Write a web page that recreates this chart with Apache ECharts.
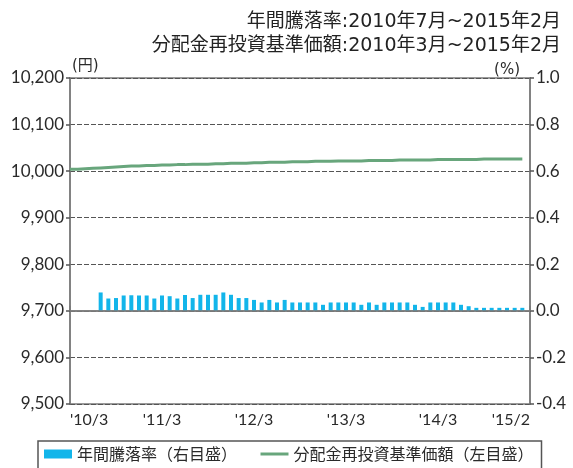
<!DOCTYPE html>
<html>
<head>
<meta charset="utf-8">
<script src="https://cdn.jsdelivr.net/npm/echarts@6/dist/echarts.min.js"></script>
<style>
  html, body { margin: 0; padding: 0; background: #fff; }
  #chart { width: 573px; height: 468px; }
</style>
</head>
<body>
<div id="chart"></div>
<script>
// Month index 0 = 2010/3, 59 = 2015/2
const xTickLabels = ["'10/3", "'11/3", "'12/3", "'13/3", "'14/3", "'15/2"];

// 分配金再投資基準価額 (円), monthly from 2010/3
const navValues = [
  10004, 10004, 10005, 10006,
  10007, 10008, 10009, 10010, 10011, 10011,
  10012, 10012, 10013, 10013, 10014, 10014, 10015, 10015, 10015, 10016, 10016,
  10017, 10017, 10017, 10018, 10018, 10019, 10019, 10019, 10020,
  10020, 10020, 10021, 10021, 10021, 10022, 10022, 10022, 10022,
  10023, 10023, 10023, 10023, 10024, 10024, 10024, 10024, 10024,
  10025, 10025, 10025, 10025, 10025, 10025, 10026, 10026, 10026, 10026, 10026, 10026
];

// 年間騰落率 (%), monthly from 2010/7 (month index 4)
const returnStart = 4;
const returnValues = [
  0.079, 0.053, 0.055, 0.066, 0.067, 0.066, 0.066, 0.053, 0.066, 0.063,
  0.053, 0.068, 0.055, 0.069, 0.069, 0.069, 0.079, 0.069, 0.055, 0.055,
  0.047, 0.036, 0.047, 0.036, 0.047, 0.036, 0.036,
  0.036, 0.036, 0.026, 0.036, 0.036, 0.036, 0.036, 0.026, 0.036, 0.026,
  0.036, 0.036, 0.036, 0.036, 0.026, 0.017, 0.036, 0.036, 0.036, 0.036,
  0.026, 0.020, 0.013, 0.013, 0.013, 0.013, 0.013, 0.013, 0.013
];

const leftTicks = { min: 9500, max: 10200, step: 100 };
const rightTicks = { min: -0.4, max: 1.0, step: 0.2 };

const seriesNames = ['年間騰落率（右目盛）', '分配金再投資基準価額（左目盛）'];
const titleLines = ['年間騰落率:2010年7月~2015年2月', '分配金再投資基準価額:2010年3月~2015年2月'];

const numFont = 'Lato, "Open Sans", sans-serif';
const cjkFont = '"DejaVu Sans", "Noto Sans CJK JP", sans-serif';
const axisGray = '#7a7a7a';
const textColor = '#2a2a2a';
const barColor = '#12b5ea';
const lineColor = '#68a67c';

const chart = echarts.init(document.getElementById('chart'), null, { renderer: 'canvas' });

chart.setOption({
  animation: false,
  backgroundColor: '#fff',
  title: [
    { text: titleLines[0], right: 7, top: 8, textStyle: { fontSize: 19, fontWeight: 'normal', color: '#222', fontFamily: cjkFont } },
    { text: titleLines[1], right: 7, top: 32, textStyle: { fontSize: 19, fontWeight: 'normal', color: '#222', fontFamily: cjkFont } }
  ],
  grid: {
    left: 70, right: 43, top: 78, bottom: 64,
    show: true, borderColor: axisGray, borderWidth: 1.5, backgroundColor: 'transparent'
  },
  legend: {
    left: 38, top: 441,
    padding: [5, 8, 10, 6],
    itemGap: 22, itemWidth: 28, itemHeight: 9,
    borderColor: '#555', borderWidth: 1.5,
    textStyle: { fontSize: 16, color: textColor, fontFamily: '"Noto Sans CJK JP", sans-serif' },
    data: [
      { name: seriesNames[0], icon: 'rect' },
      { name: seriesNames[1], itemStyle: { opacity: 0 }, lineStyle: { color: lineColor, width: 3 } }
    ]
  },
  xAxis: {
    type: 'value', min: 0, max: 60, interval: 12,
    axisLine: { show: true, lineStyle: { color: axisGray, width: 1.5 } },
    axisTick: { show: true, inside: true, length: 5, lineStyle: { color: axisGray, width: 1.5 } },
    splitLine: { show: false },
    axisLabel: {
      margin: 8, fontSize: 16, color: textColor, fontFamily: numFont,
      showMinLabel: true, showMaxLabel: true,
      alignMinLabel: 'left', alignMaxLabel: 'right',
      formatter: v => xTickLabels[Math.round(v / 12)]
    }
  },
  yAxis: [
    {
      type: 'value', min: leftTicks.min, max: leftTicks.max, interval: leftTicks.step,
      name: '(円)', nameLocation: 'end', nameGap: 4,
      nameTextStyle: { align: 'left', fontSize: 15, color: textColor, fontFamily: cjkFont, padding: [0, 0, 0, 2] },
      axisLine: { show: true, lineStyle: { color: axisGray, width: 1.5 } },
      axisTick: { show: true, length: 4, lineStyle: { color: '#555', width: 1.5 } },
      splitLine: { show: true, lineStyle: { color: '#555', width: 1, type: [5, 2] } },
      axisLabel: {
        margin: 6, fontSize: 17, color: textColor, fontFamily: numFont,
        formatter: v => v.toLocaleString('en-US')
      }
    },
    {
      type: 'value', min: rightTicks.min, max: rightTicks.max, interval: rightTicks.step,
      name: '(%)', nameLocation: 'end', nameGap: 0,
      nameTextStyle: { align: 'right', verticalAlign: 'bottom', fontSize: 15, color: textColor, fontFamily: cjkFont, padding: [0, 10, 0, 0] },
      axisLine: { show: true, lineStyle: { color: axisGray, width: 1.5 } },
      axisTick: { show: true, length: 4, lineStyle: { color: '#555', width: 1.5 } },
      splitLine: { show: false },
      axisLabel: {
        margin: 6, fontSize: 17, color: textColor, fontFamily: numFont,
        formatter: v => v.toFixed(1)
      }
    }
  ],
  series: [
    {
      name: seriesNames[0],
      type: 'bar',
      yAxisIndex: 1,
      barWidth: 4,
      itemStyle: { color: barColor },
      data: returnValues.map((v, i) => [returnStart + i, v]),
      markLine: {
        silent: true, symbol: 'none', label: { show: false },
        lineStyle: { color: axisGray, width: 1.5, type: 'solid' },
        data: [{ yAxis: 0 }]
      },
      z: 3
    },
    {
      name: seriesNames[1],
      type: 'line',
      yAxisIndex: 0,
      symbol: 'none',
      lineStyle: { color: lineColor, width: 3 },
      itemStyle: { color: lineColor },
      data: navValues.map((v, i) => [i, v]),
      z: 4
    }
  ]
});
</script>
</body>
</html>
